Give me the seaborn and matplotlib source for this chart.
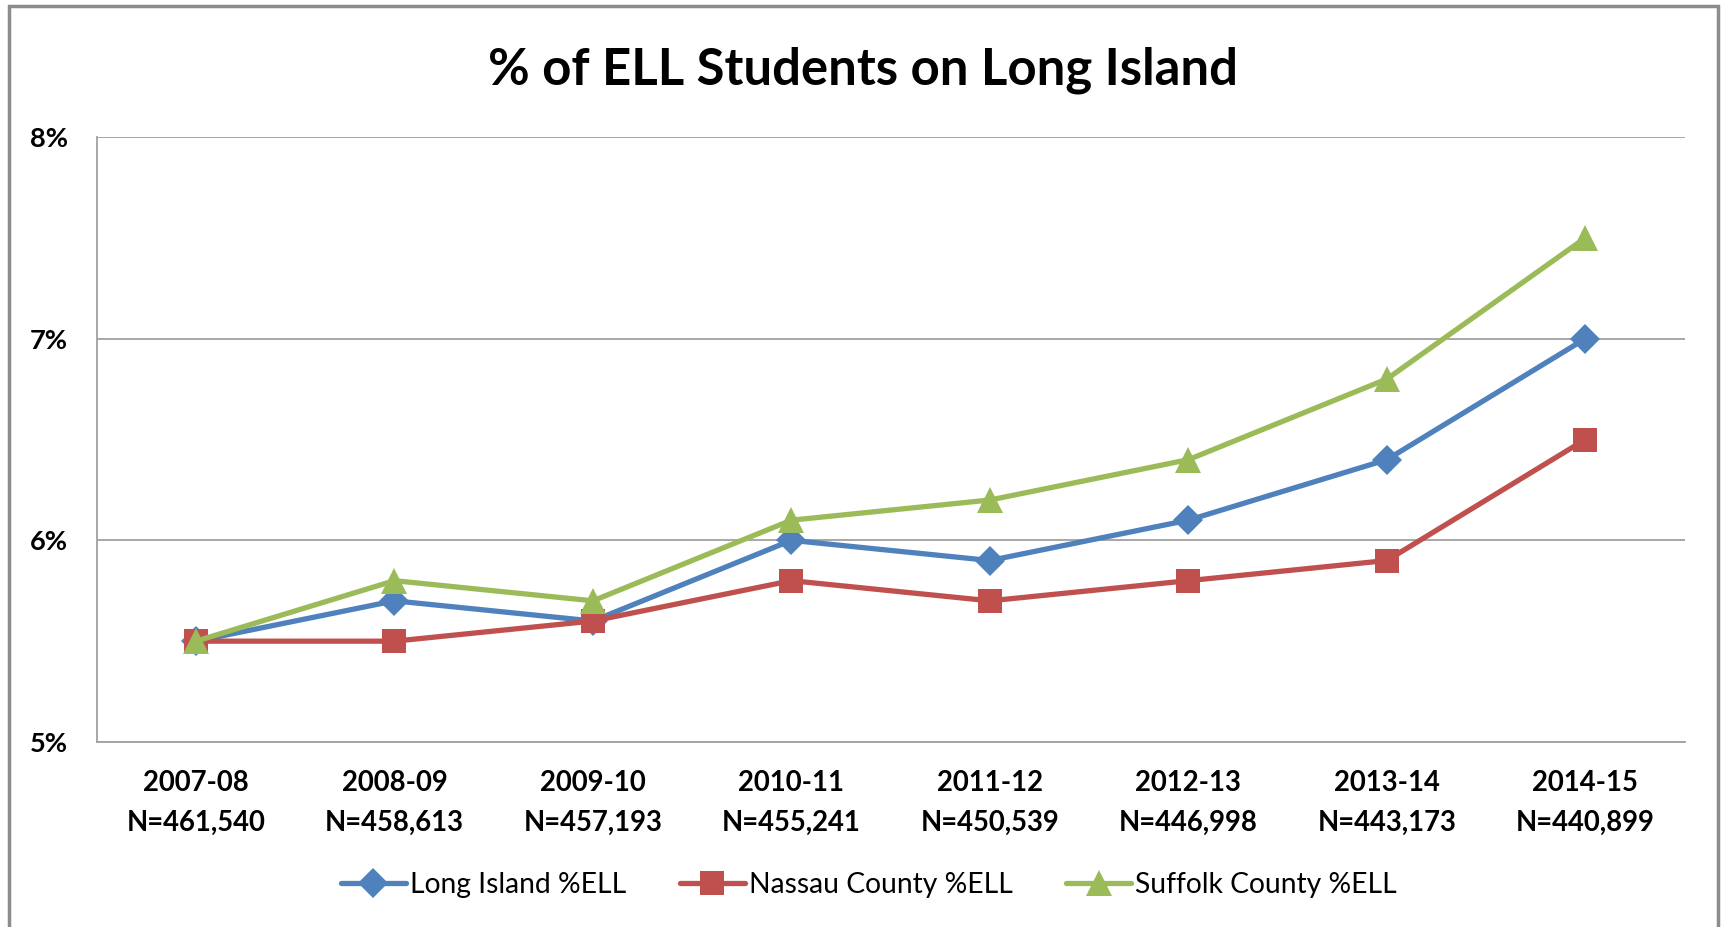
import pandas as pd
import numpy as np
import matplotlib.pyplot as plt
import seaborn as sns
import matplotlib.ticker as ticker
from matplotlib.lines import Line2D
from matplotlib.patches import Rectangle

sns.set_style("white")
plt.rcParams['font.family'] = ['Lato', 'DejaVu Sans']
plt.rcParams['text.color'] = 'black'

years = ['2007-08', '2008-09', '2009-10', '2010-11', '2011-12', '2012-13', '2013-14', '2014-15']
enrollment = ['461,540', '458,613', '457,193', '455,241', '450,539', '446,998', '443,173', '440,899']
long_island = [5.5, 5.7, 5.6, 6.0, 5.9, 6.1, 6.4, 7.0]
nassau = [5.5, 5.5, 5.6, 5.8, 5.7, 5.8, 5.9, 6.5]
suffolk = [5.5, 5.8, 5.7, 6.1, 6.2, 6.4, 6.8, 7.5]

series_names = ['Long Island %ELL', 'Nassau County %ELL', 'Suffolk County %ELL']
colors = ['#4F81BD', '#C0504D', '#9BBB59']
markers = ['D', 's', '^']
msizes = [15, 17, 19]

df = pd.DataFrame({
    'pos': list(range(len(years))) * 3,
    'value': long_island + nassau + suffolk,
    'series': np.repeat(series_names, len(years)),
})

fig = plt.figure(figsize=(17.23, 9.27), dpi=100)
renderer = fig.canvas.get_renderer()


def fit_size(text, width_px, weight='normal'):
    # font size that makes `text` about width_px wide
    t = fig.text(0, 0, text, fontsize=10, fontweight=weight)
    w = t.get_window_extent(renderer).width
    t.remove()
    return 10 * width_px / w


title_fs = fit_size('% of ELL Students on Long Island', 753, 'bold')
tick_fs = fit_size('N=461,540', 140, 'bold')
ylab_fs = fit_size('8%', 38, 'bold')
leg_fs = fit_size('Long Island %ELL', 214)

fig.patches.append(Rectangle((0.005, -0.01), 0.992, 1.004, transform=fig.transFigure,
                             fill=False, edgecolor='#8c8c8c', linewidth=2.5))
ax = fig.add_axes([96.7 / 1723, 1 - 742 / 927, (1684.6 - 96.7) / 1723, (742 - 137) / 927])

for name, col, mk, ms in zip(series_names, colors, markers, msizes):
    sns.lineplot(data=df[df['series'] == name], x='pos', y='value', ax=ax,
                 color=col, linewidth=3.8, marker=mk, markersize=ms,
                 markeredgewidth=0, legend=False)

ax.set_xlim(-0.5, len(years) - 0.5)
ax.set_ylim(5, 8)
ax.set_yticks([5, 6, 7, 8])
ax.yaxis.set_major_formatter(ticker.FuncFormatter(lambda v, p: f'{v:.0f}%'))
ax.yaxis.grid(True, color='#a0a0a0', linewidth=1.3)
ax.set_axisbelow(True)

ax.set_xticks(range(len(years)))
ax.set_xticklabels([f'{y}\nN={n}' for y, n in zip(years, enrollment)],
                   fontsize=tick_fs, fontweight='bold', linespacing=1.65)
ax.set_xticks(np.arange(-0.5, len(years)), minor=True)
ax.tick_params(axis='x', which='major', length=0, pad=20, labelcolor='black')
ax.tick_params(axis='x', which='minor', length=9, width=1.3, color='#a0a0a0', direction='out')
ax.tick_params(axis='y', labelsize=ylab_fs, length=6, width=1.3, color='#a0a0a0', pad=15,
               labelcolor='black')
for lab in ax.get_yticklabels():
    lab.set_fontweight('bold')

for s in ['top', 'right']:
    ax.spines[s].set_visible(False)
for s in ['left', 'bottom']:
    ax.spines[s].set_color('#a0a0a0')
    ax.spines[s].set_linewidth(1.3)

ax.set_xlabel('')
ax.set_ylabel('')

fig.text(863 / 1723, 1 - 70 / 927, '% of ELL Students on Long Island',
         ha='center', va='center', fontsize=title_fs, fontweight='bold')

handles = [Line2D([0], [0], color=c, linewidth=3.8, marker=m, markersize=ms, markeredgewidth=0)
           for c, m, ms in zip(colors, markers, msizes)]
fig.legend(handles, series_names, loc='center', bbox_to_anchor=(869 / 1723, 1 - 885 / 927),
           ncol=3, frameon=False, fontsize=leg_fs, handlelength=2.3, handletextpad=0.15,
           columnspacing=1.9)

fig.savefig('out.png', dpi=100)
